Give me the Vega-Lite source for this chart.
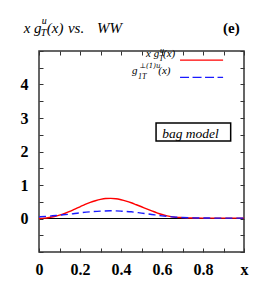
{
  "$schema": "https://vega.github.io/schema/vega-lite/v6.json",
  "width": 205,
  "height": 201,
  "autosize": {"type": "none"},
  "padding": {"left": 39, "top": 51, "right": 29, "bottom": 34},
  "background": "white",
  "config": {"view": {"stroke": "#333", "strokeWidth": 1.5}},
  "datasets": {
    "curves": [
      {"x": 0, "y": 0, "s": "xgT"},
      {"x": 0.025, "y": 0.01, "s": "xgT"},
      {"x": 0.05, "y": 0.03, "s": "xgT"},
      {"x": 0.075, "y": 0.06, "s": "xgT"},
      {"x": 0.1, "y": 0.1, "s": "xgT"},
      {"x": 0.125, "y": 0.15, "s": "xgT"},
      {"x": 0.15, "y": 0.21, "s": "xgT"},
      {"x": 0.175, "y": 0.28, "s": "xgT"},
      {"x": 0.2, "y": 0.35, "s": "xgT"},
      {"x": 0.225, "y": 0.42, "s": "xgT"},
      {"x": 0.25, "y": 0.48, "s": "xgT"},
      {"x": 0.275, "y": 0.53, "s": "xgT"},
      {"x": 0.3, "y": 0.57, "s": "xgT"},
      {"x": 0.325, "y": 0.595, "s": "xgT"},
      {"x": 0.35, "y": 0.6, "s": "xgT"},
      {"x": 0.375, "y": 0.59, "s": "xgT"},
      {"x": 0.4, "y": 0.56, "s": "xgT"},
      {"x": 0.425, "y": 0.52, "s": "xgT"},
      {"x": 0.45, "y": 0.47, "s": "xgT"},
      {"x": 0.475, "y": 0.41, "s": "xgT"},
      {"x": 0.5, "y": 0.35, "s": "xgT"},
      {"x": 0.525, "y": 0.29, "s": "xgT"},
      {"x": 0.55, "y": 0.23, "s": "xgT"},
      {"x": 0.575, "y": 0.17, "s": "xgT"},
      {"x": 0.6, "y": 0.12, "s": "xgT"},
      {"x": 0.625, "y": 0.08, "s": "xgT"},
      {"x": 0.65, "y": 0.05, "s": "xgT"},
      {"x": 0.7, "y": 0.025, "s": "xgT"},
      {"x": 0.75, "y": 0.015, "s": "xgT"},
      {"x": 0.8, "y": 0.01, "s": "xgT"},
      {"x": 0.9, "y": 0.01, "s": "xgT"},
      {"x": 1.0, "y": 0.01, "s": "xgT"},
      {"x": 0, "y": 0.05, "s": "g1T"},
      {"x": 0.05, "y": 0.07, "s": "g1T"},
      {"x": 0.1, "y": 0.1, "s": "g1T"},
      {"x": 0.15, "y": 0.13, "s": "g1T"},
      {"x": 0.2, "y": 0.17, "s": "g1T"},
      {"x": 0.25, "y": 0.2, "s": "g1T"},
      {"x": 0.3, "y": 0.22, "s": "g1T"},
      {"x": 0.35, "y": 0.23, "s": "g1T"},
      {"x": 0.4, "y": 0.22, "s": "g1T"},
      {"x": 0.45, "y": 0.2, "s": "g1T"},
      {"x": 0.5, "y": 0.16, "s": "g1T"},
      {"x": 0.55, "y": 0.12, "s": "g1T"},
      {"x": 0.6, "y": 0.08, "s": "g1T"},
      {"x": 0.65, "y": 0.05, "s": "g1T"},
      {"x": 0.7, "y": 0.03, "s": "g1T"},
      {"x": 0.75, "y": 0.02, "s": "g1T"},
      {"x": 0.8, "y": 0.015, "s": "g1T"},
      {"x": 0.9, "y": 0.01, "s": "g1T"},
      {"x": 1.0, "y": 0.01, "s": "g1T"}
    ],
    "one": [{}]
  },
  "layer": [
    {
      "data": {"name": "one"},
      "mark": {"type": "rule", "color": "black", "strokeWidth": 1.2},
      "encoding": {
        "y": {"datum": 0, "type": "quantitative", "axis": null, "scale": {"domain": [-1, 5], "nice": false, "zero": false}}
      }
    },
    {
      "data": {"name": "curves"},
      "transform": [{"filter": "datum.s == 'xgT'"}],
      "mark": {"type": "line", "color": "#ff0000", "strokeWidth": 1.4, "interpolate": "monotone"},
      "encoding": {
        "x": {"field": "x", "type": "quantitative",
          "scale": {"domain": [0, 1], "nice": false, "zero": false},
          "axis": {"orient": "bottom", "values": [0, 0.1, 0.2, 0.3, 0.4, 0.5, 0.6, 0.7, 0.8, 0.9, 1],
            "tickSize": -4, "tickColor": "#333", "labelPadding": 13, "domain": false, "grid": false, "title": null,
            "labelFont": "Liberation Serif", "labelFontSize": 16, "labelFontWeight": "bold", "labelColor": "black",
            "labelOverlap": false, "labelFlush": false, "labelBound": false,
            "labelExpr": "datum.value > 0.95 ? 'x' : (abs(datum.value*5 - round(datum.value*5)) < 0.01 ? (datum.value == 0 ? '0' : format(datum.value, '.1f')) : '')"}},
        "y": {"field": "y", "type": "quantitative",
          "scale": {"domain": [-1, 5], "nice": false, "zero": false},
          "axis": {"orient": "left", "values": [-1, -0.5, 0, 0.5, 1, 1.5, 2, 2.5, 3, 3.5, 4, 4.5, 5],
            "tickSize": -4, "tickColor": "#333", "labelPadding": 15, "domain": false, "grid": false, "title": null,
            "labelFont": "Liberation Serif", "labelFontSize": 16, "labelFontWeight": "bold", "labelColor": "black",
            "labelOverlap": false, "labelFlush": false, "labelBound": false,
            "labelExpr": "datum.value >= 0 && datum.value <= 4 && datum.value == round(datum.value) ? format(datum.value, 'd') : ''"}}
      }
    },
    {
      "data": {"name": "curves"},
      "transform": [{"filter": "datum.s == 'g1T'"}],
      "mark": {"type": "line", "color": "#1a1aff", "strokeWidth": 1.4, "strokeDash": [7, 4], "interpolate": "monotone"},
      "encoding": {
        "x": {"field": "x", "type": "quantitative",
          "axis": {"orient": "top", "values": [0, 0.1, 0.2, 0.3, 0.4, 0.5, 0.6, 0.7, 0.8, 0.9, 1],
            "tickSize": -4, "tickColor": "#333", "labels": false, "domain": false, "grid": false, "title": null}},
        "y": {"field": "y", "type": "quantitative",
          "axis": {"orient": "right", "values": [-1, -0.5, 0, 0.5, 1, 1.5, 2, 2.5, 3, 3.5, 4, 4.5, 5],
            "tickSize": -4, "tickColor": "#333", "labels": false, "domain": false, "grid": false, "title": null}}
      }
    },
    {
      "data": {"name": "one"},
      "mark": {"type": "rule", "color": "#ff0000", "strokeWidth": 1.4},
      "encoding": {
        "x": {"datum": 0.688, "type": "quantitative", "axis": null},
        "x2": {"datum": 0.898},
        "y": {"datum": 4.727, "type": "quantitative", "axis": null}
      }
    },
    {
      "data": {"name": "one"},
      "mark": {"type": "rule", "color": "#1a1aff", "strokeWidth": 1.4, "strokeDash": [9, 3.5]},
      "encoding": {
        "x": {"datum": 0.688, "type": "quantitative", "axis": null},
        "x2": {"datum": 0.898},
        "y": {"datum": 4.212, "type": "quantitative", "axis": null}
      }
    },
    {
      "data": {"name": "one"},
      "mark": {"type": "rect", "fill": "white", "stroke": "black", "strokeWidth": 1.5},
      "encoding": {
        "x": {"datum": 0.571, "type": "quantitative", "axis": null},
        "x2": {"datum": 0.935},
        "y": {"datum": 2.85, "type": "quantitative", "axis": null},
        "y2": {"datum": 2.31}
      }
    },
    {
      "data": {"values": [{"t": "bag model"}]},
      "mark": {"type": "text", "font": "Liberation Serif", "fontStyle": "italic", "fontSize": 13.5, "align": "left"},
      "encoding": {
        "text": {"field": "t"},
        "x": {"datum": 0.601, "type": "quantitative", "axis": null},
        "y": {"datum": 2.52, "type": "quantitative", "axis": null}
      }
    },
    {
      "data": {"values": [{"t": "x g"}]},
      "mark": {"type": "text", "font": "Liberation Serif", "fontStyle": "italic", "fontSize": 11, "align": "left", "baseline": "alphabetic"},
      "encoding": {
        "text": {"field": "t"},
        "x": {"datum": 0.522, "type": "quantitative", "axis": null},
        "y": {"datum": 4.818, "type": "quantitative", "axis": null}
      }
    },
    {
      "data": {"values": [{"t": "u"}]},
      "mark": {"type": "text", "font": "Liberation Serif", "fontStyle": "italic", "fontSize": 8, "align": "left", "baseline": "alphabetic"},
      "encoding": {
        "text": {"field": "t"},
        "x": {"datum": 0.59, "type": "quantitative", "axis": null},
        "y": {"datum": 4.94, "type": "quantitative", "axis": null}
      }
    },
    {
      "data": {"values": [{"t": "T"}]},
      "mark": {"type": "text", "font": "Liberation Serif", "fontStyle": "italic", "fontSize": 8, "align": "left", "baseline": "alphabetic"},
      "encoding": {
        "text": {"field": "t"},
        "x": {"datum": 0.585, "type": "quantitative", "axis": null},
        "y": {"datum": 4.69, "type": "quantitative", "axis": null}
      }
    },
    {
      "data": {"values": [{"t": "(x)"}]},
      "mark": {"type": "text", "font": "Liberation Serif", "fontStyle": "italic", "fontSize": 11, "align": "left", "baseline": "alphabetic"},
      "encoding": {
        "text": {"field": "t"},
        "x": {"datum": 0.605, "type": "quantitative", "axis": null},
        "y": {"datum": 4.818, "type": "quantitative", "axis": null}
      }
    },
    {
      "data": {"values": [{"t": "g"}]},
      "mark": {"type": "text", "font": "Liberation Serif", "fontStyle": "italic", "fontSize": 11, "align": "left", "baseline": "alphabetic"},
      "encoding": {
        "text": {"field": "t"},
        "x": {"datum": 0.454, "type": "quantitative", "axis": null},
        "y": {"datum": 4.303, "type": "quantitative", "axis": null}
      }
    },
    {
      "data": {"values": [{"t": "⊥(1)u"}]},
      "mark": {"type": "text", "font": "DejaVu Serif", "fontStyle": "italic", "fontSize": 7, "align": "left", "baseline": "alphabetic"},
      "encoding": {
        "text": {"field": "t"},
        "x": {"datum": 0.49, "type": "quantitative", "axis": null},
        "y": {"datum": 4.5, "type": "quantitative", "axis": null}
      }
    },
    {
      "data": {"values": [{"t": "1T"}]},
      "mark": {"type": "text", "font": "Liberation Serif", "fontStyle": "italic", "fontSize": 8, "align": "left", "baseline": "alphabetic"},
      "encoding": {
        "text": {"field": "t"},
        "x": {"datum": 0.483, "type": "quantitative", "axis": null},
        "y": {"datum": 4.16, "type": "quantitative", "axis": null}
      }
    },
    {
      "data": {"values": [{"t": "(x)"}]},
      "mark": {"type": "text", "font": "Liberation Serif", "fontStyle": "italic", "fontSize": 11, "align": "left", "baseline": "alphabetic"},
      "encoding": {
        "text": {"field": "t"},
        "x": {"datum": 0.582, "type": "quantitative", "axis": null},
        "y": {"datum": 4.303, "type": "quantitative", "axis": null}
      }
    },
    {
      "data": {"values": [{"t": "x g"}]},
      "mark": {"type": "text", "font": "Liberation Serif", "fontStyle": "italic", "fontSize": 15, "align": "left", "baseline": "alphabetic"},
      "encoding": {
        "text": {"field": "t"},
        "x": {"datum": -0.075, "type": "quantitative", "axis": null},
        "y": {"datum": 5.545, "type": "quantitative", "axis": null}
      }
    },
    {
      "data": {"values": [{"t": "u"}]},
      "mark": {"type": "text", "font": "Liberation Serif", "fontStyle": "italic", "fontSize": 10, "align": "left", "baseline": "alphabetic"},
      "encoding": {
        "text": {"field": "t"},
        "x": {"datum": 0.014, "type": "quantitative", "axis": null},
        "y": {"datum": 5.82, "type": "quantitative", "axis": null}
      }
    },
    {
      "data": {"values": [{"t": "T"}]},
      "mark": {"type": "text", "font": "Liberation Serif", "fontStyle": "italic", "fontSize": 10, "align": "left", "baseline": "alphabetic"},
      "encoding": {
        "text": {"field": "t"},
        "x": {"datum": 0.009, "type": "quantitative", "axis": null},
        "y": {"datum": 5.45, "type": "quantitative", "axis": null}
      }
    },
    {
      "data": {"values": [{"t": "(x)"}]},
      "mark": {"type": "text", "font": "Liberation Serif", "fontStyle": "italic", "fontSize": 15, "align": "left", "baseline": "alphabetic"},
      "encoding": {
        "text": {"field": "t"},
        "x": {"datum": 0.038, "type": "quantitative", "axis": null},
        "y": {"datum": 5.545, "type": "quantitative", "axis": null}
      }
    },
    {
      "data": {"values": [{"t": "vs."}]},
      "mark": {"type": "text", "font": "Liberation Serif", "fontStyle": "italic", "fontSize": 15, "align": "left", "baseline": "alphabetic"},
      "encoding": {
        "text": {"field": "t"},
        "x": {"datum": 0.141, "type": "quantitative", "axis": null},
        "y": {"datum": 5.545, "type": "quantitative", "axis": null}
      }
    },
    {
      "data": {"values": [{"t": "WW"}]},
      "mark": {"type": "text", "font": "Liberation Serif", "fontStyle": "italic", "fontSize": 15, "align": "left", "baseline": "alphabetic"},
      "encoding": {
        "text": {"field": "t"},
        "x": {"datum": 0.283, "type": "quantitative", "axis": null},
        "y": {"datum": 5.545, "type": "quantitative", "axis": null}
      }
    },
    {
      "data": {"values": [{"t": "(e)"}]},
      "mark": {"type": "text", "font": "Liberation Serif", "fontWeight": "bold", "fontSize": 15, "align": "left", "baseline": "alphabetic"},
      "encoding": {
        "text": {"field": "t"},
        "x": {"datum": 0.898, "type": "quantitative", "axis": null},
        "y": {"datum": 5.545, "type": "quantitative", "axis": null}
      }
    }
  ]
}
